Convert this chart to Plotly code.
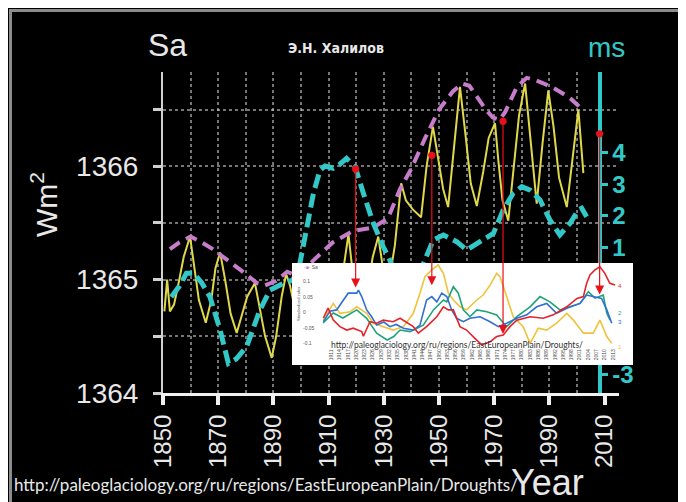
import plotly.graph_objects as go

# ---------------- main chart data ----------------
# solar irradiance (yellow)
sa_years = [1850.5, 1851.5, 1852.5, 1854.0, 1855.5, 1857.5, 1859.8, 1861.5, 1863.0, 1865.5,
            1867.5, 1869.0, 1870.7, 1872.5, 1874.5, 1876.7, 1878.5, 1880.5, 1883.3, 1885.0,
            1887.0, 1889.4, 1891.0, 1893.0, 1894.6, 1896.0, 1898.0, 1901.0, 1904.0, 1906.5,
            1909.0, 1912.0, 1914.5, 1917.2, 1919.0, 1921.0, 1923.5, 1926.0, 1928.0, 1930.0,
            1932.0, 1934.0, 1936.3, 1938.0, 1940.5, 1943.5, 1945.5, 1947.8, 1950.0, 1951.5,
            1953.3, 1955.5, 1957.6, 1959.5, 1961.5, 1963.7, 1966.0, 1968.0, 1970.3, 1971.5,
            1973.0, 1975.1, 1977.0, 1979.0, 1981.2, 1983.0, 1985.4, 1987.5, 1989.6, 1991.5,
            1993.5, 1996.3, 1998.5, 2000.5, 2002.3]
sa_vals = [1364.72, 1365.00, 1364.72, 1364.78, 1364.95, 1365.20, 1365.38, 1365.10, 1364.82, 1364.62,
           1364.82, 1365.10, 1365.24, 1365.00, 1364.70, 1364.53, 1364.68, 1364.85, 1364.97, 1364.75,
           1364.50, 1364.31, 1364.50, 1364.85, 1365.05, 1364.95, 1364.72, 1364.55, 1364.85, 1365.05,
           1364.80, 1364.70, 1364.95, 1365.40, 1365.00, 1364.80, 1364.85, 1365.20, 1365.38, 1365.05,
           1365.00, 1365.30, 1365.85, 1365.70, 1365.62, 1365.55, 1366.00, 1366.35, 1366.00, 1365.80,
           1365.64, 1366.20, 1366.70, 1366.30, 1365.85, 1365.65, 1365.95, 1366.25, 1366.38, 1366.05,
           1365.70, 1365.52, 1365.95, 1366.45, 1366.73, 1366.30, 1365.67, 1366.20, 1366.67, 1366.35,
           1365.90, 1365.64, 1366.10, 1366.50, 1365.94]

# envelope (pink dashed)
env_years = [1852.5, 1856.0, 1860.0, 1864.0, 1868.0, 1872.0, 1876.0, 1880.0, 1884.0, 1887.0,
             1891.0, 1895.0, 1899.0, 1904.5, 1911.6, 1918.8, 1926.1, 1931.5, 1935.9, 1940.0,
             1945.0, 1950.0, 1955.0, 1958.5, 1961.0, 1964.0, 1967.0, 1969.5, 1972.0, 1974.0,
             1978.2, 1981.8, 1985.0, 1988.0, 1991.5, 1995.0, 1998.0, 2001.1]
env_vals = [1365.27, 1365.33, 1365.38, 1365.33, 1365.27, 1365.20, 1365.13, 1365.05, 1364.97, 1364.95,
            1364.99, 1365.07, 1365.03, 1365.17, 1365.33, 1365.43, 1365.46, 1365.54, 1365.80, 1365.98,
            1366.25, 1366.50, 1366.66, 1366.73, 1366.71, 1366.60, 1366.50, 1366.43, 1366.41, 1366.48,
            1366.70, 1366.78, 1366.76, 1366.73, 1366.69, 1366.64, 1366.59, 1366.52]

# length of day (cyan dashed, right axis)
ms_years = [1853.0, 1856.0, 1858.5, 1861.0, 1864.0, 1867.0, 1870.7, 1873.7, 1876.5, 1880.3,
            1885.1, 1888.8, 1893.6, 1897.1, 1899.6, 1902.0, 1904.5, 1906.9, 1908.7, 1911.7,
            1914.0, 1916.5, 1919.6, 1922.6, 1926.2, 1929.8, 1932.2, 1935.0, 1938.5, 1941.5,
            1944.3, 1947.9, 1951.6, 1956.4, 1960.0, 1964.9, 1969.7, 1973.3, 1976.9, 1980.0,
            1983.0, 1986.6, 1990.2, 1993.8, 1997.5, 2000.5, 2001.7, 2003.5]
ms_vals = [-0.55, -0.20, 0.20, 0.20, -0.10, -0.54, -1.59, -2.64, -2.50, -2.11,
           -0.96, -0.33, -0.12, -0.02, 0.51, 1.66, 2.71, 3.44, 3.57, 3.50,
           3.62, 3.81, 3.55, 2.71, 1.77, 1.03, 0.61, 0.00, -0.40, -0.10,
           0.51, 1.24, 1.40, 1.19, 0.93, 1.19, 1.45, 2.19, 2.71, 2.92,
           2.81, 2.50, 1.87, 1.40, 1.77, 2.19, 2.24, 1.97]

x_tick_years = [1850, 1870, 1890, 1910, 1930, 1950, 1970, 1990, 2010]
grid_years = [1860, 1870, 1880, 1890, 1900, 1910, 1920, 1930, 1940, 1950, 1960, 1970, 1980, 1990, 2000]
y_tick_vals = [1364, 1364.5, 1365, 1365.5, 1366, 1366.5]
y_tick_text = ["1364", "", "1365", "", "1366", ""]
ms_tick_vals = [-3, -2, -1, 0, 1, 2, 3, 4]
ms_tick_text = ["-3", "", "", "", "1", "2", "3", "4"]

# red arrows (year, start value on the curves, end value in the inset) in Sa units
arrow_years = [1919.8, 1947.4, 1973.2, 2008.2]
arrow_from = [1365.99, 1366.11, 1366.41, 1366.30]
arrow_to = [1364.93, 1364.95, 1364.52, 1364.87]

# ---------------- inset data ----------------
blue_years = [1908.1, 1910.5, 1912.9, 1915.3, 1917.1, 1920.2, 1920.8, 1922.0, 1923.8, 1925.6,
              1927.4, 1930.0, 1932.2, 1934.5, 1937.1, 1940.7, 1943.1, 1945.5, 1947.4, 1949.2,
              1951.0, 1952.8, 1954.6, 1956.4, 1958.8, 1961.2, 1964.9, 1968.5, 1971.5, 1974.5,
              1978.2, 1981.8, 1985.4, 1989.0, 1992.6, 1996.3, 2001.1, 2003.5, 2005.9, 2008.9,
              2010.8, 2012.6]
blue_vals = [-0.029, 0.005, 0.009, 0.041, 0.063, 0.063, 0.073, 0.052, 0.009, -0.013,
             -0.040, -0.030, -0.045, -0.038, -0.050, -0.056, -0.040, 0.041, 0.052, 0.035,
             0.063, 0.052, 0.009, -0.018, -0.029, -0.018, -0.013, -0.029, -0.045, -0.034,
             -0.018, -0.007, 0.019, 0.030, -0.002, 0.014, 0.030, 0.057, 0.052, 0.046,
             0.009, -0.034]

green_years = [1908.0, 1911.7, 1915.2, 1920.2, 1923.8, 1927.4, 1931.2, 1933.6, 1935.9, 1939.5,
               1944.3, 1948.0, 1951.6, 1952.8, 1955.2, 1957.0, 1958.8, 1961.2, 1963.7, 1967.3,
               1970.9, 1974.5, 1978.2, 1983.0, 1986.6, 1990.2, 1993.8, 1997.5, 2001.1, 2004.1,
               2006.5, 2009.5, 2010.8, 2012.0]
green_vals = [-0.033, -0.001, -0.017, 0.009, -0.018, -0.066, -0.088, -0.077, -0.056, -0.061,
              -0.040, 0.009, 0.041, 0.035, 0.084, 0.063, 0.009, -0.013, 0.009, 0.003,
              -0.007, -0.045, -0.013, 0.019, 0.052, 0.035, 0.009, 0.019, 0.030, 0.068,
              0.047, 0.057, -0.002, -0.024]

red_years = [1908.1, 1909.8, 1911.7, 1914.1, 1916.6, 1918.9, 1922.0, 1922.6, 1925.0, 1927.4,
             1929.8, 1933.4, 1935.9, 1938.8, 1940.7, 1942.5, 1945.5, 1949.2, 1951.6, 1953.4,
             1955.2, 1957.6, 1960.0, 1963.0, 1965.5, 1968.5, 1970.9, 1973.3, 1975.7, 1978.2,
             1983.0, 1987.8, 1991.4, 1996.3, 2000.0, 2002.3, 2003.5, 2004.7, 2006.5, 2008.3,
             2010.1, 2011.9, 2013.8]
red_vals = [-0.017, 0.015, -0.024, -0.045, -0.056, -0.050, -0.061, -0.076, -0.029, -0.034,
            -0.024, -0.029, -0.018, -0.034, -0.045, -0.066, -0.045, -0.013, 0.019, 0.009,
            0.009, -0.045, -0.056, -0.083, -0.104, -0.094, -0.077, -0.072, -0.045, -0.024,
            -0.013, -0.018, -0.007, 0.019, 0.046, 0.052, 0.095, 0.122, 0.138, 0.148,
            0.127, 0.095, 0.089]

yellow_years = [1908.1, 1911.7, 1914.1, 1917.8, 1920.2, 1923.8, 1926.2, 1929.8, 1933.4, 1937.1,
                1940.7, 1943.1, 1944.9, 1947.4, 1949.7, 1951.6, 1953.4, 1955.2, 1957.6, 1960.0,
                1963.7, 1966.0, 1968.5, 1970.9, 1972.1, 1974.5, 1976.9, 1980.5, 1983.0, 1986.0,
                1989.0, 1992.6, 1996.3, 1998.7, 2002.3, 2005.9, 2008.3, 2010.8, 2012.6]
yellow_vals = [-0.024, 0.030, -0.002, 0.003, 0.019, -0.002, -0.034, -0.045, -0.056, -0.045,
               -0.002, 0.063, 0.116, 0.138, 0.154, 0.127, 0.063, 0.041, 0.019, 0.009,
               0.041, 0.057, 0.089, 0.127, 0.116, 0.052, -0.013, -0.045, -0.099, -0.050,
               -0.056, -0.034, -0.002, -0.024, -0.066, -0.066, -0.024, -0.077, -0.099]

inset_tick_years = [1911, 1914, 1917, 1920, 1923, 1926, 1929, 1932, 1935, 1938, 1941, 1944,
                    1947, 1950, 1953, 1956, 1959, 1962, 1965, 1968, 1971, 1974, 1977, 1980,
                    1983, 1986, 1989, 1992, 1995, 1998, 2001, 2004, 2007, 2010, 2013]
inset_y_ticks = [-0.15, -0.1, -0.05, 0, 0.05, 0.1, 0.15]
inset_y_text = ["-0.15", "-0.1", "-0.05", "0", "0.05", "0.1", "0.15"]
inset_labels = ["4", "2", "3", "1"]
inset_label_vals = [0.087, 0.0, -0.03, -0.11]

URL = "http://paleoglaciology.org/ru/regions/EastEuropeanPlain/Droughts/"

# ---------------- geometry (screen pixels; the page body adds an 8px margin) ----------------
OFF = 8
L, R, T, B = 163, 640, 72, 393
W, H = R - L, B - T


def px(x):
    return (x - L) / W


def py(y):
    return (B - y) / H


CYAN = "#33c8c8"
PINK = "#c77ccc"
YELLOW = "#e0d84a"
WHITE = "#e8e8e8"
SANS = "Liberation Sans, Arial, sans-serif"

fig = go.Figure()

fig.add_trace(go.Scatter(x=sa_years, y=sa_vals, mode="lines",
                         line=dict(color=YELLOW, width=2), xaxis="x", yaxis="y"))
fig.add_trace(go.Scatter(x=env_years, y=env_vals, mode="lines",
                         line=dict(color=PINK, width=4, dash="12px,7px"), xaxis="x", yaxis="y"))
fig.add_trace(go.Scatter(x=ms_years, y=ms_vals, mode="lines",
                         line=dict(color=CYAN, width=5, dash="14px,6px"), xaxis="x", yaxis="y2"))

inset_series = [
    (yellow_years, yellow_vals, "#f0c23c"),
    (green_years, green_vals, "#1fa37a"),
    (blue_years, blue_vals, "#2f6fd6"),
    (red_years, red_vals, "#e3242b"),
]
for yrs, vals, col in inset_series:
    fig.add_trace(go.Scatter(x=yrs, y=vals, mode="lines", line=dict(color=col, width=1.6),
                             xaxis="x3", yaxis="y3"))

grid_col = "rgba(215,215,215,0.55)"

fig.update_layout(
    width=686, height=502,
    margin=dict(l=L - OFF, r=686 - (R - OFF), t=T - OFF, b=502 - (B - OFF), pad=0),
    paper_bgcolor="black", plot_bgcolor="white",
    showlegend=False,
    xaxis=dict(
        domain=[0, px(619)], range=[1850, 1850 + (619 - L) / 2.76],
        tickmode="array", tickvals=x_tick_years, tickangle=-90,
        tickfont=dict(family=SANS, size=24, color=WHITE),
        showline=True, linecolor="#f0f0f0", linewidth=3,
        ticks="outside", ticklen=9, tickwidth=4, tickcolor="#f0f0f0",
        showgrid=False, zeroline=False,
        minor=dict(tickmode="array", tickvals=grid_years, showgrid=True, gridcolor=grid_col,
                   griddash="dot", gridwidth=1.5, ticks="inside", ticklen=1,
                   tickcolor="rgba(0,0,0,0)"),
    ),
    yaxis=dict(
        domain=[0, 1], range=[1364, 1366 + (166 - T) / 113],
        tickmode="array", tickvals=y_tick_vals, ticktext=y_tick_text,
        tickfont=dict(family=SANS, size=28, color=WHITE), ticklabelstandoff=9,
        showline=True, linecolor="#d0d0d0", linewidth=2,
        ticks="outside", ticklen=8, tickwidth=3, tickcolor="#d0d0d0",
        showgrid=True, gridcolor=grid_col, griddash="dot", gridwidth=1.5, zeroline=False,
    ),
    yaxis2=dict(
        overlaying="y", anchor="free", position=px(599.5), side="right",
        range=[(279.5 - B) / 31.8, (279.5 - T) / 31.8],
        tickmode="array", tickvals=ms_tick_vals, ticktext=ms_tick_text,
        tickfont=dict(family=SANS, size=24, color=CYAN, weight="bold"),
        showline=True, linecolor=CYAN, linewidth=4,
        ticks="outside", ticklen=6, tickwidth=3, tickcolor=CYAN,
        showgrid=False, zeroline=False,
    ),
    xaxis3=dict(
        domain=[px(292), px(633)], anchor="y3",
        range=[1850 + (292 - L) / 2.76, 1850 + (633 - L) / 2.76],
        tickmode="array", tickvals=inset_tick_years, tickangle=-90,
        ticklabelposition="inside", tickfont=dict(family=SANS, size=5, color="#4a4a4a"),
        showline=False, showgrid=False, zeroline=False, ticks="",
    ),
    yaxis3=dict(
        domain=[py(365), py(263)], anchor="x3",
        range=[-(365 - 312.7) / 310, (312.7 - 263) / 310],
        tickmode="array", tickvals=inset_y_ticks, ticktext=inset_y_text,
        ticklabelposition="inside", ticklabelstandoff=8,
        tickfont=dict(family=SANS, size=5, color="#555555"),
        showline=False, showgrid=False, zeroline=False, ticks="",
    ),
)

# black frame (with grey edge) behind everything
fig.add_shape(type="rect", xref="paper", yref="paper",
              x0=px(10.5), x1=px(720), y0=py(530), y1=py(10.5),
              fillcolor="black", line=dict(color="#8c8c8c", width=3), layer="below")

ann = []
ann.append(dict(text="Sa", x=px(167), y=py(45), font=dict(family=SANS, size=32, color=WHITE)))
ann.append(dict(text="<b>Э.Н. Халилов</b>", x=px(336), y=py(48),
                font=dict(family="Liberation Sans Narrow, DejaVu Sans Condensed, Arial Narrow, sans-serif",
                          size=14, color=WHITE)))
ann.append(dict(text="ms", x=px(606), y=py(47), font=dict(family=SANS, size=28, color=CYAN)))
ann.append(dict(text="Wm<sup>2</sup>", x=px(44), y=py(205), textangle=-90,
                font=dict(family=SANS, size=30, color=WHITE)))
ann.append(dict(text="Year", x=px(547), y=py(482), font=dict(family=SANS, size=36, color=WHITE)))
ann.append(dict(text=URL, x=px(12), y=py(484), xanchor="left",
                font=dict(family="Lato, Carlito, sans-serif", size=17, color=WHITE)))
# inset texts
ann.append(dict(text=URL, x=px(457), y=py(345),
                font=dict(family="Lato, sans-serif", size=8.5, color="#333333")))
ann.append(dict(text="Standardized index", x=px(298), y=py(304), textangle=-90,
                font=dict(family=SANS, size=4, color="#555555")))
ann.append(dict(text="<span style='color:#c77ccc'>-■-</span> Sa", x=px(311), y=py(267),
                font=dict(family=SANS, size=5, color="#555555")))

for a in ann:
    a.setdefault("xref", "paper")
    a.setdefault("yref", "paper")
    a.setdefault("xanchor", "center")
    a.setdefault("yanchor", "middle")
    a["showarrow"] = False
    fig.add_annotation(**a)

inset_cols = ["#e3242b", "#1fa37a", "#2f6fd6", "#f0c23c"]
for lab, v, c in zip(inset_labels, inset_label_vals, inset_cols):
    fig.add_annotation(text=lab, x=2015.6, y=v, xref="x3", yref="y3", showarrow=False,
                       xanchor="center", yanchor="middle",
                       font=dict(family=SANS, size=6, color=c))

for yr, y0, y1 in zip(arrow_years, arrow_from, arrow_to):
    fig.add_annotation(x=yr, y=y1, ax=yr, ay=y0, xref="x", yref="y", axref="x", ayref="y",
                       text="", showarrow=True, arrowhead=2, arrowside="end+start",
                       startarrowhead=6, arrowsize=1.5, startarrowsize=1.5, arrowwidth=1.2,
                       arrowcolor="#e8101a", standoff=0, startstandoff=0)

fig.write_html("out.html")
